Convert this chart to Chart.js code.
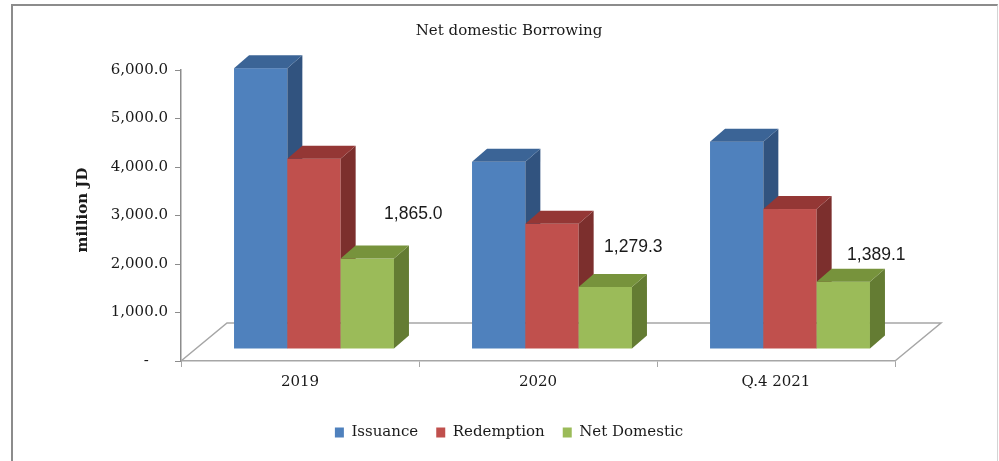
<!DOCTYPE html>
<html>
<head>
<meta charset="utf-8">
<script src="https://cdn.jsdelivr.net/npm/chart.js@4.4.0/dist/chart.umd.min.js"></script>
<style>
html,body{margin:0;padding:0;background:#fff;overflow:hidden;}
#frame{position:absolute;left:11px;top:4px;width:984px;height:470px;border-top:2px solid #8c8c8c;border-left:2px solid #8c8c8c;border-right:1px solid #d4d4d4;}
#wrap{position:absolute;left:0;top:0;width:999px;height:461px;}
</style>
</head>
<body>
<div id="frame"></div>
<div id="wrap"><canvas id="chart"></canvas></div>
<script>
const periods = ['2019', '2020', 'Q.4 2021'];
const issuance = [5790, 3860, 4275];
const redemption = [3925, 2581, 2886];
const netDomestic = [1865.0, 1279.3, 1389.1];
const seriesNames = ['Issuance', 'Redemption', 'Net Domestic'];

const serif = '"DejaVu Serif", serif';
const num = new Intl.NumberFormat('en-US', {minimumFractionDigits: 1, maximumFractionDigits: 1});

// look of the 3d boxes
const faces = [
  {front: '#4f81bd', side: '#31537f', top: '#3b6496'},
  {front: '#c0504d', side: '#7c2f2d', top: '#943735'},
  {front: '#9bbb59', side: '#647c33', top: '#77933c'}
];
const shift = {x: 14, y: -12};      // bars stand a bit behind the front edge of the floor
const depth = {x: 15, y: -13};      // bar thickness
const floorDepth = {x: 46, y: -38};
const labelNudge = [[46, -44], [28, -40], [33, -26]];

const bars3d = {
  id: 'bars3d',
  beforeDatasetDraw() { return false; },
  beforeDatasetsDraw(chart) {
    const {ctx, chartArea: a} = chart;
    const b = chart.scales.y.getPixelForValue(0);
    ctx.save();
    ctx.strokeStyle = '#a6a6a6'; ctx.lineWidth = 1.5;
    ctx.beginPath();
    ctx.moveTo(a.left, b);
    ctx.lineTo(a.left + floorDepth.x, b + floorDepth.y);
    ctx.lineTo(a.right + floorDepth.x, b + floorDepth.y);
    ctx.lineTo(a.right, b);
    ctx.stroke();
    ctx.restore();
  },
  afterDatasetsDraw(chart) {
    const ctx = chart.ctx;
    ctx.save();
    ctx.translate(shift.x, shift.y);
    chart.data.labels.forEach((lab, i) => {
      chart.data.datasets.forEach((ds, d) => {
        const bar = chart.getDatasetMeta(d).data[i];
        const l = bar.x - bar.width / 2, r = bar.x + bar.width / 2, t = bar.y, b = bar.base;
        const f = faces[d];
        ctx.fillStyle = f.front;
        ctx.fillRect(l, t, r - l, b - t);
        ctx.fillStyle = f.side;
        ctx.beginPath();
        ctx.moveTo(r, t); ctx.lineTo(r + depth.x, t + depth.y); ctx.lineTo(r + depth.x, b + depth.y); ctx.lineTo(r, b);
        ctx.closePath(); ctx.fill();
        ctx.fillStyle = f.top;
        ctx.beginPath();
        ctx.moveTo(l, t); ctx.lineTo(l + depth.x, t + depth.y); ctx.lineTo(r + depth.x, t + depth.y); ctx.lineTo(r, t);
        ctx.closePath(); ctx.fill();
      });
    });
    // value labels on the net series
    ctx.fillStyle = '#1a1a1a';
    ctx.font = '17.5px "Liberation Sans", sans-serif';
    ctx.textAlign = 'center'; ctx.textBaseline = 'middle';
    chart.getDatasetMeta(2).data.forEach((bar, i) => {
      ctx.fillText(num.format(netDomestic[i]), bar.x + labelNudge[i][0], bar.y + labelNudge[i][1]);
    });
    ctx.restore();
  },
  afterDraw(chart) {
    const ctx = chart.ctx;
    ctx.save();
    ctx.translate(83, 210);
    ctx.rotate(-Math.PI / 2);
    ctx.font = 'bold 15px ' + serif;
    ctx.fillStyle = '#1a1a1a';
    ctx.textAlign = 'center'; ctx.textBaseline = 'middle';
    ctx.fillText('million JD', 0, 0);
    ctx.restore();
  }
};

new Chart(document.getElementById('chart'), {
  type: 'bar',
  data: {
    labels: periods,
    datasets: [
      {label: seriesNames[0], data: issuance, backgroundColor: faces[0].front},
      {label: seriesNames[1], data: redemption, backgroundColor: faces[1].front},
      {label: seriesNames[2], data: netDomestic, backgroundColor: faces[2].front}
    ]
  },
  options: {
    responsive: true,
    maintainAspectRatio: false,
    animation: false,
    categoryPercentage: 0.672,
    barPercentage: 1,
    layout: {padding: {left: 90, right: 71, top: 0, bottom: 11}},
    plugins: {
      tooltip: {enabled: false},
      title: {
        display: true, text: 'Net domestic Borrowing', color: '#1a1a1a',
        font: {family: serif, size: 15, weight: 'normal'},
        padding: {top: 22, bottom: 30}
      },
      legend: {
        position: 'bottom',
        labels: {color: '#1a1a1a', font: {family: serif, size: 15}, boxWidth: 9, boxHeight: 10, padding: 18}
      }
    },
    scales: {
      x: {
        grid: {drawOnChartArea: false, tickLength: 6, color: '#a6a6a6', offset: true},
        border: {color: '#a6a6a6', width: 1.5},
        ticks: {color: '#1a1a1a', font: {family: serif, size: 15}, padding: 6},
        afterFit(s) { s.height = 46; }
      },
      y: {
        min: 0, max: 6000,
        grid: {drawOnChartArea: false, tickLength: 6, color: '#8c8c8c'},
        border: {color: '#8c8c8c', width: 1.5},
        ticks: {
          stepSize: 1000, color: '#1a1a1a', font: {family: serif, size: 15}, padding: 7,
          callback: v => v === 0 ? '-\u2007\u2007' : num.format(v)
        },
        afterFit(s) { s.width = 91; }
      },
      // empty spacer on the right so the chart area ends where the floor does
      spacer: {
        position: 'right', display: true,
        grid: {display: false}, border: {display: false}, ticks: {display: false},
        afterFit(s) { s.width = 33; }
      }
    }
  },
  plugins: [bars3d]
});
</script>
</body>
</html>
